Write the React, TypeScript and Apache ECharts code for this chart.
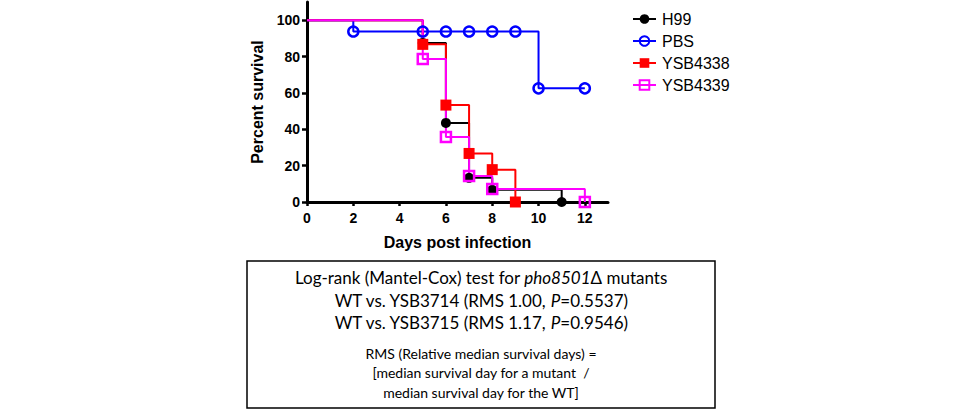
import React, { useEffect, useRef } from 'react';
import * as echarts from 'echarts';

// Kaplan-Meier survival data
const seriesNames = ['H99', 'PBS', 'YSB4338', 'YSB4339'];
const h99Days = [0, 5, 6, 7, 8, 11];
const h99Survival = [100, 87.5, 43.5, 13.3, 6.7, 0];
const pbsDays = [0, 2, 5, 6, 7, 8, 9, 10, 12];
const pbsSurvival = [100, 93.75, 93.75, 93.75, 93.75, 93.75, 93.75, 62.5, 62.5];
const ysb4338Days = [0, 5, 6, 7, 8, 9];
const ysb4338Survival = [100, 86.7, 53.3, 26.7, 17.8, 0];
const ysb4339Days = [0, 5, 6, 7, 8, 12];
const ysb4339Survival = [100, 78.6, 35.7, 14.3, 7.1, 0];

const xTicks = [0, 2, 4, 6, 8, 10, 12];
const yTicks = [0, 20, 40, 60, 80, 100];

const boxTitle = 'Log-rank (Mantel-Cox) test for {i|pho8501}Δ mutants';
const boxLines = [
  'WT vs. YSB3714 (RMS 1.00, {i|P}=0.5537)',
  'WT vs. YSB3715 (RMS 1.17, {i|P}=0.9546)'
];
const noteLines = [
  'RMS (Relative median survival days) =',
  '[median survival day for a mutant  /',
  'median survival day for the WT]'
];

const toPoints = (days: number[], vals: number[]) =>
  days.map((d, i) => (i === 0 ? { value: [d, vals[i]], symbol: 'none' } : [d, vals[i]]));

const stepSeries = (
  name: string,
  days: number[],
  vals: number[],
  color: string,
  symbol: string,
  size: number,
  open: boolean
) => ({
  name,
  type: 'line',
  step: 'end',
  data: toPoints(days, vals),
  symbol,
  symbolSize: size,
  showAllSymbol: true,
  lineStyle: { color, width: 2 },
  itemStyle: open
    ? { color: 'transparent', borderColor: color, borderWidth: 2.5 }
    : { color, borderColor: color, borderWidth: 0 },
  emphasis: { disabled: true }
});

const App: React.FC = () => {
  const chartRef = useRef<HTMLDivElement>(null);

  useEffect(() => {
    document.body.style.margin = '0';
    if (!chartRef.current) return;
    const chart = echarts.init(chartRef.current, null, { renderer: 'svg' });

    const boxFont = 'Lato, "Open Sans", sans-serif';
    const option: any = {
      animation: false,
      backgroundColor: '#ffffff',
      textStyle: { fontFamily: 'Arial, "Liberation Sans", sans-serif' },
      grid: { left: 307, right: 352, top: 2, bottom: 213, containLabel: false },
      legend: {
        orient: 'vertical',
        left: 627,
        top: 6,
        itemWidth: 23,
        itemHeight: 12,
        itemGap: 6,
        data: seriesNames,
        textStyle: {
          fontSize: 16,
          color: '#000',
          fontFamily: 'Arial, "Liberation Sans", sans-serif',
          padding: [0, 0, 0, 1]
        }
      },
      xAxis: {
        type: 'value',
        min: 0,
        max: 13,
        name: 'Days post infection',
        nameLocation: 'middle',
        nameGap: 32,
        nameTextStyle: { fontSize: 16, fontWeight: 'bold', color: '#000' },
        axisLine: { lineStyle: { color: '#000', width: 3 } },
        axisTick: { customValues: xTicks, length: 4, lineStyle: { width: 2.5, color: '#000' } },
        axisLabel: { customValues: xTicks, fontSize: 14, fontWeight: 'bold', color: '#000', margin: 9 },
        splitLine: { show: false }
      },
      yAxis: {
        type: 'value',
        min: 0,
        max: 110,
        name: 'Percent survival',
        nameLocation: 'middle',
        nameGap: 42,
        nameTextStyle: { fontSize: 16, fontWeight: 'bold', color: '#000' },
        axisLine: { show: true, lineStyle: { color: '#000', width: 3 } },
        axisTick: { show: true, customValues: yTicks, length: 5, lineStyle: { width: 2.5, color: '#000' } },
        axisLabel: { customValues: yTicks, fontSize: 14, fontWeight: 'bold', color: '#000', margin: 7 },
        splitLine: { show: false }
      },
      series: [
        stepSeries('H99', h99Days, h99Survival, '#000000', 'circle', 10, false),
        stepSeries('PBS', pbsDays, pbsSurvival, '#0000ff', 'circle', 10, true),
        stepSeries('YSB4338', ysb4338Days, ysb4338Survival, '#ff0000', 'rect', 11, false),
        stepSeries('YSB4339', ysb4339Days, ysb4339Survival, '#ff00ff', 'rect', 10, true)
      ],
      graphic: [
        {
          type: 'rect',
          shape: { x: 247, y: 261, width: 468, height: 147 },
          style: { fill: 'none', stroke: '#000', lineWidth: 1.5 }
        },
        {
          type: 'text',
          x: 481,
          y: 277,
          style: {
            text: boxTitle,
            align: 'center',
            verticalAlign: 'middle',
            fontSize: 17,
            fontFamily: boxFont,
            fill: '#000',
            rich: { i: { fontStyle: 'italic', fontSize: 17, fontFamily: boxFont } }
          }
        },
        ...boxLines.map((t, i) => ({
          type: 'text',
          x: 481,
          y: 300 + i * 22,
          style: {
            text: t,
            align: 'center',
            verticalAlign: 'middle',
            fontSize: 17,
            fontFamily: boxFont,
            fill: '#000',
            rich: { i: { fontStyle: 'italic', fontSize: 17, fontFamily: boxFont } }
          }
        })),
        ...noteLines.map((t, i) => ({
          type: 'text',
          x: 481,
          y: 353 + i * 19.5,
          style: {
            text: t,
            align: 'center',
            verticalAlign: 'middle',
            fontSize: 14,
            fontFamily: boxFont,
            fill: '#000'
          }
        }))
      ]
    };

    chart.setOption(option);
    return () => {
      chart.dispose();
    };
  }, []);

  return <div ref={chartRef} style={{ width: 960, height: 415 }} />;
};

export default App;
